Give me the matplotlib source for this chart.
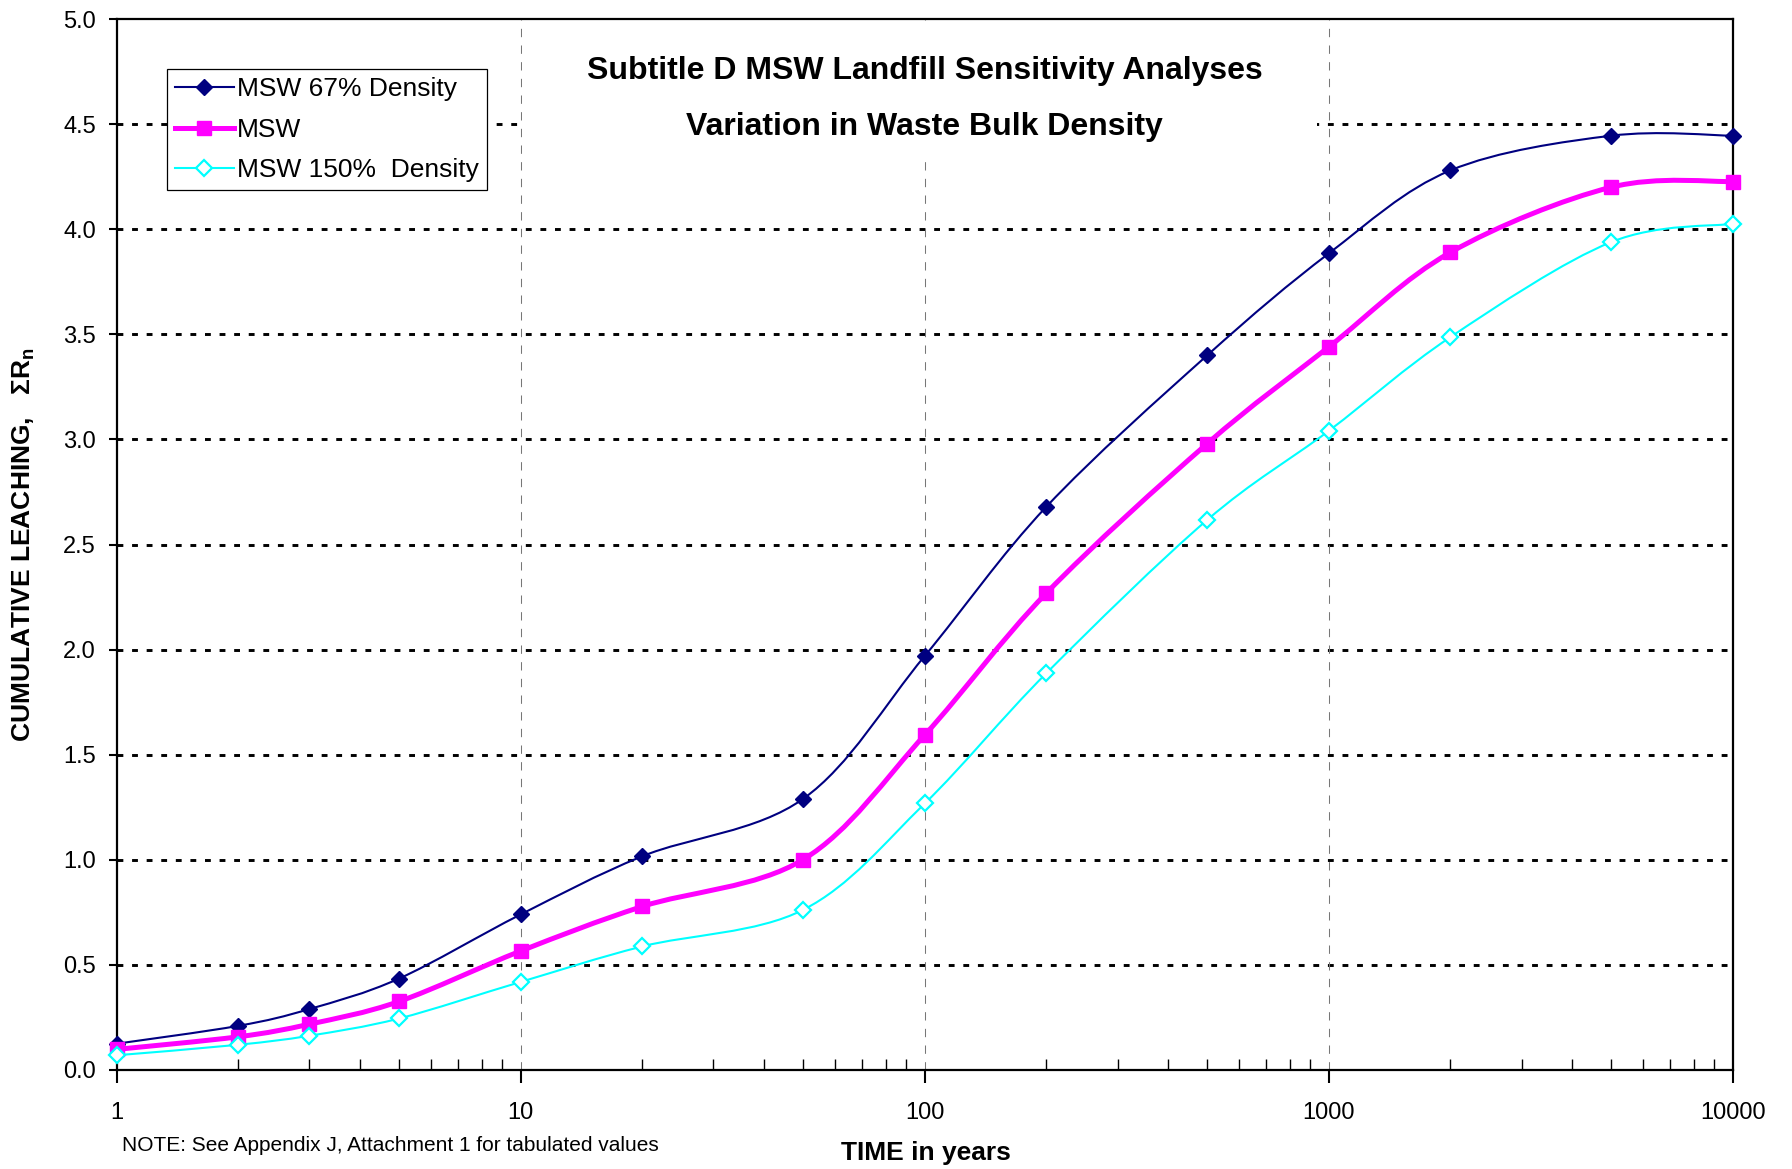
import numpy as np
import matplotlib
matplotlib.use("Agg")
import matplotlib.pyplot as plt
from matplotlib.path import Path
from matplotlib.patches import PathPatch, Rectangle
from matplotlib.lines import Line2D
from matplotlib.ticker import FixedLocator, FixedFormatter, LogLocator, NullFormatter

plt.rcParams["font.family"] = ["Liberation Sans", "DejaVu Sans"]
plt.rcParams["mathtext.fontset"] = "custom"
plt.rcParams["mathtext.rm"] = "Liberation Sans"
plt.rcParams["mathtext.bf"] = "Liberation Sans:bold"
plt.rcParams["mathtext.it"] = "Liberation Sans:italic"

# Data
time_years = [1, 2, 3, 5, 10, 20, 50, 100, 200, 500, 1000, 2000, 5000, 10000]
msw_67 = [0.125, 0.21, 0.29, 0.435, 0.74, 1.017, 1.29, 1.97, 2.68, 3.40,
          3.885, 4.28, 4.445, 4.445]
msw = [0.098, 0.158, 0.218, 0.326, 0.566, 0.778, 1.001, 1.594, 2.269, 2.98,
       3.44, 3.89, 4.20, 4.227]
msw_150 = [0.07, 0.12, 0.163, 0.245, 0.419, 0.588, 0.762, 1.268, 1.888, 2.617,
           3.041, 3.487, 3.939, 4.026]

x_ticks = [1, 10, 100, 1000, 10000]
x_tick_labels = ["1", "10", "100", "1000", "10000"]
y_ticks = [0.0, 0.5, 1.0, 1.5, 2.0, 2.5, 3.0, 3.5, 4.0, 4.5, 5.0]

series_names = ["MSW 67% Density", "MSW", "MSW 150%  Density"]


def smooth_path(xs, ys):
    # Catmull-Rom style bezier through the points, built in log10(x) space
    lx = np.log10(np.asarray(xs, dtype=float))
    y = np.asarray(ys, dtype=float)
    n = len(lx)
    verts = [(xs[0], ys[0])]
    codes = [Path.MOVETO]
    for i in range(n - 1):
        p0 = i - 1 if i > 0 else i
        p3 = i + 2 if i + 2 < n else i + 1
        c1 = (lx[i] + (lx[i + 1] - lx[p0]) / 6, y[i] + (y[i + 1] - y[p0]) / 6)
        c2 = (lx[i + 1] - (lx[p3] - lx[i]) / 6, y[i + 1] - (y[p3] - y[i]) / 6)
        verts += [(10 ** c1[0], c1[1]), (10 ** c2[0], c2[1]), (xs[i + 1], ys[i + 1])]
        codes += [Path.CURVE4] * 3
    return Path(verts, codes)


fig = plt.figure(figsize=(17.92, 11.69), dpi=100)
ax = fig.add_axes([0.0651, 0.0847, 0.9019, 0.899])
ax.set_xscale("log")
ax.set_xlim(1, 10000)
ax.set_ylim(0, 5.0)
ax.set_axisbelow(True)

styles = [
    dict(color="#000080", lw=1.5, marker="D", ms=8.5, mfc="#000080", mec="#000080", mew=1.0),
    dict(color="#FF00FF", lw=3.6, marker="s", ms=10, mfc="#FF00FF", mec="#FF00FF", mew=1.0),
    dict(color="#00FFFF", lw=1.5, marker="D", ms=8, mfc="white", mec="#00FFFF", mew=1.6),
]

handles = []
for ys, st, name in zip([msw_67, msw, msw_150], styles, series_names):
    patch = PathPatch(smooth_path(time_years, ys), facecolor="none",
                      edgecolor=st["color"], lw=st["lw"], zorder=2,
                      capstyle="round", joinstyle="round")
    ax.add_patch(patch)
    ax.plot(time_years, ys, linestyle="none", marker=st["marker"], ms=st["ms"],
            mfc=st["mfc"], mec=st["mec"], mew=st["mew"], zorder=3, clip_on=False)
    handles.append(Line2D([], [], color=st["color"], lw=st["lw"], marker=st["marker"],
                          ms=st["ms"], mfc=st["mfc"], mec=st["mec"], mew=st["mew"],
                          label=name))

# grid
for yv in y_ticks[1:-1]:
    ax.axhline(yv, color="black", lw=2.1, linestyle=(0, (2, 3)), zorder=0.5)
for xv in x_ticks[1:-1]:
    ax.axvline(xv, color="#777777", lw=0.75, linestyle=(0, (8, 8)), zorder=0.5)

# white box behind the title
ax.add_patch(Rectangle((0.251, 0.8716), 0.4916, 0.125, transform=ax.transAxes,
                       facecolor="white", edgecolor="none", zorder=1))

ax.text(0.5, 0.951, "Subtitle D MSW Landfill Sensitivity Analyses",
        transform=ax.transAxes, ha="center", va="center", fontsize=23,
        fontweight="bold", zorder=4)
ax.text(0.5, 0.897, "Variation in Waste Bulk Density",
        transform=ax.transAxes, ha="center", va="center", fontsize=23,
        fontweight="bold", zorder=4)

leg = ax.legend(handles=handles, loc="upper left", bbox_to_anchor=(0.031, 0.952),
                borderaxespad=0, fancybox=False, edgecolor="black", framealpha=1,
                fontsize=19, handlelength=2.25, handletextpad=0.12, labelspacing=0.62,
                borderpad=0.3)
leg.get_frame().set_linewidth(0.9)
leg.set_zorder(5)

# ticks
ax.xaxis.set_major_locator(FixedLocator(x_ticks))
ax.xaxis.set_major_formatter(FixedFormatter(x_tick_labels))
ax.xaxis.set_minor_locator(LogLocator(base=10, subs=np.arange(2, 10)))
ax.xaxis.set_minor_formatter(NullFormatter())
ax.yaxis.set_major_locator(FixedLocator(y_ticks))
ax.yaxis.set_major_formatter(FixedFormatter([f"{v:.1f}" for v in y_ticks]))

ax.tick_params(axis="x", which="major", direction="out", length=9, width=1.5,
               labelsize=17, pad=14)
ax.tick_params(axis="x", which="minor", direction="in", length=8, width=1.0)
ax.tick_params(axis="y", which="major", direction="out", length=6, width=1.5,
               labelsize=17, pad=9)
ax.tick_params(top=False, right=False)

for sp in ax.spines.values():
    sp.set_linewidth(1.6)
    sp.set_color("black")

ax.set_ylabel(r"CUMULATIVE LEACHING,   $\mathbf{\Sigma R_n}$", fontsize=19,
              fontweight="bold")
ax.yaxis.set_label_coords(-0.049, 0.5)

fig.text(0.5165, 0.0137, "TIME in years", ha="center", va="center", fontsize=19,
         fontweight="bold")
fig.text(0.068, 0.0197, "NOTE: See Appendix J, Attachment 1 for tabulated values",
         ha="left", va="center", fontsize=15)

fig.savefig("out.png", dpi=100)
